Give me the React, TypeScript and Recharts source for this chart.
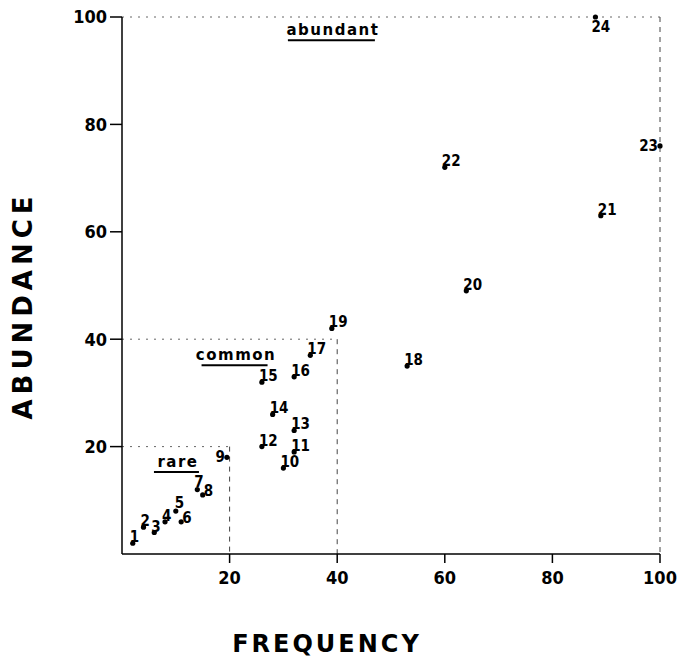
import {
  ReferenceDot,
  ReferenceLine,
  Scatter,
  ScatterChart,
  XAxis,
  YAxis,
} from "recharts";

// sample stations: id, frequency (%), abundance (%)
const ids = [1, 2, 3, 4, 5, 6, 7, 8, 9, 10, 11, 12, 13, 14, 15, 16, 17, 18, 19, 20, 21, 22, 23, 24];
const frequency = [2, 4, 6, 8, 10, 11, 14, 15, 19.5, 30, 32, 26, 32, 28, 26, 32, 35, 53, 39, 64, 89, 60, 100, 88];
const abundance = [2, 5, 4, 6, 8, 6, 12, 11, 18, 16, 19, 20, 23, 26, 32, 33, 37, 35, 42, 49, 63, 72, 76, 100];

const ticks = [20, 40, 60, 80, 100];

// class boundaries (frequency, abundance)
const classNames = ["rare", "common", "abundant"];
const classLimits = [20, 40, 100];
const classLabelAt = [
  { x: 10.4, y: 16.2 },
  { x: 21.2, y: 36.1 },
  { x: 39.2, y: 96.6 },
];

const data = ids.map((id, i) => ({ id, x: frequency[i], y: abundance[i] }));

const tickFont = "'DejaVu Sans Condensed', 'Liberation Sans Narrow', 'Liberation Sans', sans-serif";
const labelFont = "'DejaVu Sans', 'Liberation Sans', sans-serif";

function Marker(props: any) {
  const { cx, cy, payload } = props;
  const id = payload.id;
  let tx = cx - 3;
  let ty = cy - 1;
  let anchor = "start";
  if (id === 23 || id === 9) {
    tx = cx - 2;
    ty = cy + 5;
    anchor = "end";
  } else if (id === 24) {
    tx = cx - 4;
    ty = cy + 15;
  } else if (id === 7) {
    ty = cy - 3;
  } else if (id === 5) {
    tx = cx - 1;
    ty = cy - 3;
  } else if (id === 6 || id === 8) {
    // crowded corner: nudge right of the dot
    tx = cx + 1;
    ty = cy + 1;
  }
  return (
    <g>
      <text x={tx} y={ty} textAnchor={anchor} fontSize={15} fontWeight="bold" fontFamily={tickFont}>
        {id}
      </text>
      <circle cx={cx} cy={cy} r={2.6} fill="#000" />
    </g>
  );
}

function ClassLabel(props: any) {
  const { viewBox, value } = props;
  const cx = viewBox.x + (viewBox.width || 0) / 2;
  const cy = viewBox.y + (viewBox.height || 0) / 2;
  const w = value.length * 10.5;
  return (
    <g>
      <text
        x={cx}
        y={cy}
        textAnchor="middle"
        fontSize={15}
        fontWeight="bold"
        letterSpacing={1.5}
        fontFamily={labelFont}
      >
        {value}
      </text>
      <line x1={cx - w / 2 - 3} x2={cx + w / 2} y1={cy + 5} y2={cy + 5} stroke="#000" strokeWidth={2} />
    </g>
  );
}

function YTitle(props: any) {
  const { viewBox } = props;
  const y = viewBox.y + viewBox.height / 2 + 20;
  return (
    <text
      x={0}
      y={0}
      transform={`translate(32, ${y}) rotate(-90)`}
      textAnchor="middle"
      fontSize={26}
      fontWeight="bold"
      letterSpacing={5}
      fontFamily={labelFont}
    >
      ABUNDANCE
    </text>
  );
}

function XTitle(props: any) {
  const { viewBox } = props;
  const x = viewBox.x + viewBox.width / 2 - 64;
  return (
    <text
      x={x}
      y={652}
      textAnchor="middle"
      fontSize={24}
      fontWeight="bold"
      letterSpacing={3}
      fontFamily={labelFont}
    >
      FREQUENCY
    </text>
  );
}

export default function App() {
  return (
    <div style={{ position: "absolute", left: 0, top: 0, background: "#fff" }}>
      <ScatterChart width={680} height={660} margin={{ top: 17, right: 20, bottom: 66, left: 62 }}>
        <XAxis
          type="number"
          dataKey="x"
          domain={[0, 100]}
          ticks={ticks}
          height={40}
          tickSize={9}
          axisLine={{ stroke: "#000", strokeWidth: 1.5 }}
          tickLine={{ stroke: "#000", strokeWidth: 1.5 }}
          tick={{ fill: "#000", fontSize: 18, fontWeight: "bold", fontFamily: tickFont, dy: 6 }}
          label={<XTitle />}
        />
        <YAxis
          type="number"
          dataKey="y"
          domain={[0, 100]}
          ticks={ticks}
          width={60}
          tickSize={12}
          axisLine={{ stroke: "#000", strokeWidth: 1.5 }}
          tickLine={{ stroke: "#000", strokeWidth: 1.5 }}
          tick={{ fill: "#000", fontSize: 18, fontWeight: "bold", fontFamily: tickFont, dx: -1 }}
          label={<YTitle />}
        />
        {classLimits.map((lim) => (
          <ReferenceLine
            key={`h${lim}`}
            segment={[
              { x: 0, y: lim },
              { x: lim, y: lim },
            ]}
            stroke="#666"
            strokeWidth={1}
            strokeDasharray="2 6"
          />
        ))}
        {classLimits.map((lim) => (
          <ReferenceLine
            key={`v${lim}`}
            segment={[
              { x: lim, y: lim },
              { x: lim, y: 0 },
            ]}
            stroke="#444"
            strokeWidth={1}
            strokeDasharray="5 5"
          />
        ))}
        {classNames.map((name, i) => (
          <ReferenceDot
            key={name}
            x={classLabelAt[i].x}
            y={classLabelAt[i].y}
            r={0}
            fill="none"
            stroke="none"
            label={<ClassLabel value={name} />}
          />
        ))}
        <Scatter data={data} shape={<Marker />} isAnimationActive={false} />
      </ScatterChart>
    </div>
  );
}
